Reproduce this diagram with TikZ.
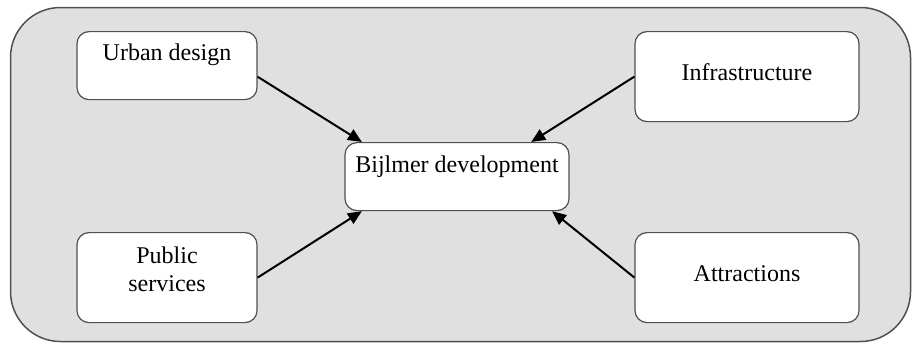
\documentclass[tikz,border=0pt]{standalone}
\usepackage{fontspec}
\setmainfont{Liberation Serif}
\usetikzlibrary{arrows.meta}
\definecolor{panelgray}{RGB}{224,224,224}
\definecolor{edgegray}{RGB}{80,80,80}
\begin{document}
\begin{tikzpicture}
        [x=1pt,y=-1pt,
         box/.style={draw=edgegray, line width=1.2pt, fill=white, rounded corners=12pt,
           inner sep=0pt, anchor=north, align=center,
           font=\fontsize{24}{28}\selectfont},
         link/.style={line width=2pt, -{Triangle[length=14pt,width=12pt]}}]
      \useasboundingbox (0,0) rectangle (912,343);
      \draw[draw=edgegray, line width=1.5pt, fill=panelgray, rounded corners=50pt] (10.5,7.5) rectangle (910.5,341.5);

      \node[box, minimum width=180pt, text height=29pt, text depth=39pt] (urban) at (167,31) {Urban design};
      \node[box, minimum width=224pt, text height=49pt, text depth=41pt] (infra) at (747,31) {Infrastructure};
      \node[box, minimum width=224pt, text height=30pt, text depth=38pt] (bijlmer) at (457,142) {Bijlmer development};
      \node[box, minimum width=180pt, text height=59pt, text depth=31pt] (public) at (167,232) {Public\\services};
      \node[box, minimum width=224pt, text height=49pt, text depth=41pt] (attr) at (747,232) {Attractions};

      \foreach \from/\to in {urban.-7.6/bijlmer.160.1, infra.west/bijlmer.25.9, public.east/bijlmer.-160.1, attr.west/bijlmer.-20.1}
        \draw[link] (\from) -- (\to);
    \end{tikzpicture}
\end{document}
